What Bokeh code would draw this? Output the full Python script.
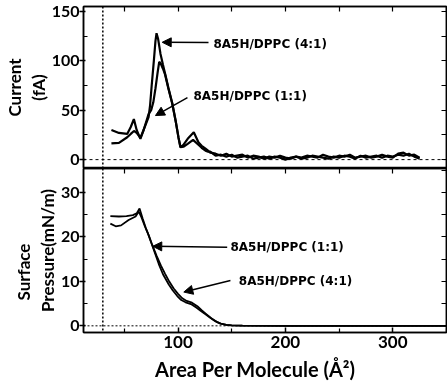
from bokeh.plotting import figure
from bokeh.layouts import column
from bokeh.models import (Range1d, LinearAxis, FixedTicker, Span, Arrow,
                          NormalHead, Label, Title)
from bokeh.embed import file_html
from bokeh.resources import INLINE

# ---------------- data ----------------
# Current (fA) vs area per molecule, distinct part of each trace
area_cur_41 = [38, 45, 52.7, 56, 58.9, 61.5, 65, 68, 72.6, 74, 75.5, 77.5, 79, 80,
               81.5, 83.7, 86, 88, 91, 94.6, 98, 100.5, 102.3, 105, 109, 114.7,
               119, 122, 125.6, 128]
current_41 = [30, 27, 26, 33, 41, 30, 21, 30, 43, 55, 75, 100, 120, 128,
              122, 107, 96, 87, 73, 57, 38, 22, 12.5, 15, 21, 27.7,
              17.5, 14, 11, 9]
area_cur_11 = [38, 45, 52.7, 56, 59, 61.5, 65, 68, 72.6, 75, 77, 79, 81, 82.5,
               84, 86, 88, 91, 94.6, 98, 100.5, 102.3, 105, 109, 114, 119, 122,
               125.6, 128]
current_11 = [16.5, 17, 22.6, 26, 29, 27, 22, 30, 46, 50, 58, 72, 88, 99,
              97, 92, 86, 72, 57, 38, 22, 12.5, 13, 16, 20, 15, 12,
              9, 8]
# noisy baseline part of both current traces
tail_area = [130, 135, 140, 145, 150, 155, 160, 165, 170, 175, 180, 185, 190, 195,
             200, 205, 210, 215, 220, 225, 230, 235, 240, 245, 250, 255, 260, 265,
             270, 275, 280, 285, 290, 295, 300, 305, 310, 315, 320, 325]
tail_41 = [7, 6, 4, 6, 3, 4, 5, 2, 4, 3, 1, 3, 2, 4, 2, 1, 3, 2, 4, 3,
           2, 5, 3, 2, 4, 3, 5, 2, 3, 4, 2, 3, 5, 3, 2, 6, 7, 4, 5, 2]
tail_11 = [8, 4, 5, 3, 5, 2, 3, 4, 1, 2, 3, 1, 3, 2, 0, 2, 3, 1, 2, 4,
           3, 2, 1, 3, 2, 4, 3, 1, 4, 2, 3, 4, 2, 4, 3, 5, 4, 6, 3, 1]

# Surface pressure (mN/m) vs area per molecule
area_pr_11 = [37, 45, 52, 58, 61.5, 64.2, 67, 70, 72.8, 77, 82.1, 86, 91.4, 95,
              99.3, 103, 107, 112, 117, 121, 125.6, 130, 135, 139.5, 145, 150,
              160, 200, 250, 300, 350]
pressure_11 = [24.7, 24.6, 24.7, 24.9, 25.3, 26.4, 24.2, 22.0, 20.3, 17.4, 13.9,
               11.6, 9.3, 8.0, 6.7, 5.8, 5.3, 4.9, 4.1, 3.4, 2.6, 1.8, 1.0, 0.5,
               0.2, 0.1, 0.05, 0, 0, 0, 0]
area_pr_41 = [37, 42, 47, 54, 60.5, 63.5, 66, 69, 72, 76, 80, 84, 88, 92, 96, 100,
              104, 108, 113, 118, 122, 126, 131, 136, 140, 145, 150, 160, 200,
              250, 300, 350]
pressure_41 = [23.0, 22.4, 22.6, 23.8, 24.6, 25.7, 24.4, 22.5, 20.8, 18.2, 15.8,
               13.6, 11.7, 9.9, 8.4, 7.2, 6.2, 5.6, 5.2, 4.4, 3.5, 2.7, 1.7, 0.9,
               0.5, 0.2, 0.1, 0.05, 0, 0, 0, 0]

ref_area = 30  # dotted vertical reference line

current_ticks = [0, 50, 100, 150]
current_minor = [25, 75, 125]
current_right_ticks = [0, 25, 50, 75, 100, 125, 150]
pressure_ticks = [0, 10, 20, 30]
pressure_minor = [5, 15, 25]
pressure_right_ticks = [0, 5, 10, 15, 20, 25, 30, 35]
area_ticks = [100, 200, 300]
area_minor = [50, 150, 250, 350]
area_top_ticks = [50, 100, 150, 200, 250, 300, 350]

label_41 = "8A5H/DPPC (4:1)"
label_11 = "8A5H/DPPC (1:1)"

# ---------------- styling ----------------
TICK_FONT = "Lato"
ANN_FONT = "DejaVu Sans"
X_RANGE = (12, 350)


def hidden_axis(ticks, tick_in=5):
    return LinearAxis(ticker=FixedTicker(ticks=ticks),
                      major_label_overrides={t: "" for t in ticks},
                      major_label_text_font_size="1px", major_label_standoff=0,
                      major_tick_in=tick_in, major_tick_out=0,
                      minor_tick_in=0, minor_tick_out=0,
                      axis_line_width=1.5, major_tick_line_width=1.2,
                      axis_line_color="black", major_tick_line_color="black")


def label_axis(ticks, minor, title):
    return LinearAxis(ticker=FixedTicker(ticks=ticks, minor_ticks=minor),
                      major_label_text_font=TICK_FONT,
                      major_label_text_font_style="bold",
                      major_label_text_font_size="16px",
                      major_label_text_color="black",
                      major_label_standoff=0,
                      major_tick_in=2, major_tick_out=4,
                      minor_tick_in=4, minor_tick_out=0,
                      axis_line_width=1.5, major_tick_line_width=1.5,
                      minor_tick_line_width=1.2,
                      axis_line_color="black", major_tick_line_color="black",
                      minor_tick_line_color="black",
                      axis_label=title, axis_label_standoff=0,
                      axis_label_text_font=TICK_FONT,
                      axis_label_text_font_style="bold",
                      axis_label_text_font_size="17px",
                      axis_label_text_color="black")


def side_title(p, text, align, offset):
    p.add_layout(Title(text=text, align=align, offset=offset, standoff=0,
                       text_font=TICK_FONT, text_font_style="bold",
                       text_font_size="17px", text_color="black"), "left")


def base_fig(height, y_range, top, bottom):
    p = figure(width=447, height=height, x_range=Range1d(*X_RANGE),
               y_range=Range1d(*y_range), output_backend="svg",
               toolbar_location=None, x_axis_location=None,
               y_axis_location=None, min_border_left=83, min_border_right=1,
               min_border_top=top, min_border_bottom=bottom)
    p.grid.visible = False
    p.outline_line_color = "black"
    p.outline_line_width = 1.5
    p.background_fill_color = "white"
    p.border_fill_color = "white"
    return p


def ann(p, text, x, y):
    p.add_layout(Label(x=x, y=y, text=text, text_font=ANN_FONT,
                       text_font_style="bold", text_font_size="12px",
                       text_baseline="middle", text_align="left",
                       text_color="black"))


def arrow(p, xs, ys, xe, ye):
    p.add_layout(Arrow(end=NormalHead(size=9, fill_color="black",
                                      line_color="black", line_width=1),
                       x_start=xs, y_start=ys, x_end=xe, y_end=ye,
                       line_color="black", line_width=1.5))


# ---------------- top panel: current ----------------
p1 = base_fig(168, (-9, 155), 6, 0)
p1.add_layout(label_axis(current_ticks, current_minor, "(fA)"), "left")
side_title(p1, "Current", "center", 0)
p1.add_layout(hidden_axis(current_right_ticks), "right")
p1.add_layout(hidden_axis(area_top_ticks), "above")

p1.add_layout(Span(location=0, dimension="width", line_color="black",
                   line_dash="3 3", line_width=1))
p1.add_layout(Span(location=ref_area, dimension="height", line_color="black",
                   line_dash="2 2", line_width=1.5))

p1.line(area_cur_11 + tail_area, current_11 + tail_11, line_color="black",
        line_width=2.2)
p1.line(area_cur_41 + tail_area, current_41 + tail_41, line_color="black",
        line_width=2.2)

arrow(p1, 128.4, 118.5, 85.3, 118.8)
ann(p1, label_41, 133, 117.5)
arrow(p1, 108.8, 62.8, 79, 44.6)
ann(p1, label_11, 114.4, 64.8)

# ---------------- bottom panel: surface pressure ----------------
p2 = base_fig(215, (-1.5, 35.4), 0, 51)
p2.add_layout(label_axis(pressure_ticks, pressure_minor, "Pressure(mN/m)"), "left")
side_title(p2, "Surface", "left", 32)
p2.add_layout(hidden_axis(pressure_right_ticks), "right")
p2.add_layout(hidden_axis(area_top_ticks), "above")
xb = LinearAxis(ticker=FixedTicker(ticks=area_ticks, minor_ticks=area_minor),
                major_label_text_font=TICK_FONT,
                major_label_text_font_style="bold",
                major_label_text_font_size="17px",
                major_label_text_color="black", major_label_standoff=3,
                major_tick_in=5, major_tick_out=0,
                minor_tick_in=4, minor_tick_out=0,
                axis_line_width=1.5, major_tick_line_width=1.5,
                minor_tick_line_width=1.2,
                axis_line_color="black", major_tick_line_color="black",
                minor_tick_line_color="black",
                axis_label="Area   Per   Molecule (Å²)", axis_label_standoff=6,
                axis_label_text_font=TICK_FONT,
                axis_label_text_font_style="bold",
                axis_label_text_font_size="20px",
                axis_label_text_color="black")
p2.add_layout(xb, "below")

p2.add_layout(Span(location=0, dimension="width", line_color="black",
                   line_dash="2 2", line_width=1))
p2.add_layout(Span(location=ref_area, dimension="height", line_color="black",
                   line_dash="2 2", line_width=1.5))

p2.line(area_pr_11, pressure_11, line_color="black", line_width=1.8)
p2.line(area_pr_41, pressure_41, line_color="black", line_width=1.8)

arrow(p2, 145.8, 17.7, 76.5, 17.9)
ann(p2, label_11, 148.8, 17.7)
arrow(p2, 148.8, 10.2, 105.4, 7.6)
ann(p2, label_41, 156.6, 10.2)

layout = column(p1, p2, spacing=0)
layout.styles = {"position": "fixed", "left": "0px", "top": "0px"}

open("out.html", "w").write(file_html(layout, INLINE))
